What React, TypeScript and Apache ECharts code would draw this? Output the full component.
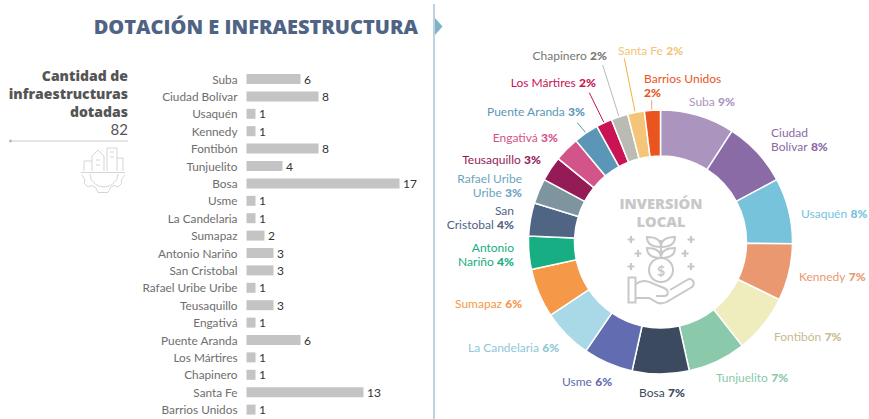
import React, { useEffect, useRef } from "react";
import * as echarts from "echarts";

const FONT = "Lato";
const HEAVY = "Open Sans";

const barCategories = ["Suba","Ciudad Bolívar","Usaquén","Kennedy","Fontibón","Tunjuelito","Bosa","Usme","La Candelaria","Sumapaz","Antonio Nariño","San Cristobal","Rafael Uribe Uribe","Teusaquillo","Engativá","Puente Aranda","Los Mártires","Chapinero","Santa Fe","Barrios Unidos"];
const barValues = [6,8,1,1,8,4,17,1,1,2,3,3,1,3,1,6,1,1,13,1];

const pieValues = [9.1,8.05,8.05,6.95,7.2,7.1,6.95,6.1,6.1,6.0,4.05,4.05,3.05,3.05,3.05,3.05,1.95,2.05,2.05,1.95];
const pieNames = ["Suba","Ciudad\nBolívar","Usaquén","Kennedy","Fontibón","Tunjuelito","Bosa","Usme","La Candelaria","Sumapaz","Antonio\nNariño","San\nCristobal","Rafael Uribe\nUribe","Teusaquillo","Engativá","Puente Aranda","Los Mártires","Chapinero","Santa Fe","Barrios Unidos\n"];
const piePercents = ["9%","8%","8%","7%","7%","7%","7%","6%","6%","6%","4%","4%","3%","3%","3%","3%","2%","2%","2%","2%"];
const pieColors = ["#ab95bf","#8a6ba5","#77c3dc","#e9986f","#efedbe","#8ac9aa","#3c4a60","#626cb0","#a9d9e7","#f59847","#16ae82","#506483","#7e959f","#951b57","#d35489","#5b96b7","#c91355","#babbb2","#f4c478","#ea541e"];
const labelColors = ["#ab95bf","#8a6ba5","#77c3dc","#e9986f","#c9bb92","#8ac9aa","#3c4a60","#626cb0","#8fc8d6","#f59847","#16ae82","#506483","#6ba4c0","#951b57","#d35489","#5b96b7","#c91355","#77776f","#f4c478","#ea541e"];
// anchor x, centre y, alignment of each donut label
const labelAnchors: [number, number, string][] = [
  [689,101,"left"],[771,139,"left"],[801,213,"left"],[799,276,"left"],[774,336,"left"],
  [716,377,"left"],[639,392,"left"],[562,381,"left"],[468,347,"left"],[455,303,"left"],
  [514,254,"right"],[514,217,"right"],[522,185,"right"],[541,159,"right"],[558,137,"right"],
  [585,111,"right"],[596,82,"right"],[607,55,"right"],[618,50,"left"],[644,85,"left"],
];
const leaders: [number, number, number, number, string][] = [
  [651.7,100,651.7,110,"#f0a080"],[624.3,58.3,635,111.7,"#f4b13f"],[602.7,65,619,116.7,"#bbbbb2"],
  [589.3,92.7,604,122.7,"#c91355"],[577.3,122.7,585.7,132.7,"#5b96b7"],
];

const CITY = "M84 171V161H92M92 171V156L98 150L104 156V171M96 160H100M96 165H100M107 171V148H117V171M117 158H123V171M110 152H114M110 157H114M81 172.5H125M90 174A14 13 0 0 0 118 174M82 175L85 180L84 183L88 187L92 185.5L96 188L98 192.5H108L110 188L114 185.5L118 187L122 183L121 180L125 175";
const PLANT = "M661 258V240M661 247C661 240 656 237 647 237C647 243 651 247 661 247ZM661 247C661 240 666 237 675 237C675 243 671 247 661 247ZM661 258C661 251 656 248 647 248C647 254 651 258 661 258ZM661 258C661 251 666 248 675 248C675 254 671 258 661 258ZM673 270A12 12 0 1 1 649 270A12 12 0 1 1 673 270ZM628.5 277.5H635.5V302.5H628.5ZM636 284C642 279 648 281 654 284L664 288C669 290 669 296 664 296H656M636 298H649L658 303C662 304 666 303 670 300L692 287C696 283 692 277 687 280L670 290";
const SPARKS = "M631 236V243M627.5 239.5H634.5M691 236V243M687.5 239.5H694.5M638 250V257M634.5 253.5H641.5M685 250V257M681.5 253.5H688.5M631 263V270M627.5 266.5H634.5M691 263V270M687.5 266.5H694.5";
echarts.graphic.registerShape("cityIcon", echarts.graphic.extendPath(CITY, {}));
echarts.graphic.registerShape("plantIcon", echarts.graphic.extendPath(PLANT, {}));
echarts.graphic.registerShape("sparkIcon", echarts.graphic.extendPath(SPARKS, {}));

const txt = (text: string, x: number, y: number, fontSize: number, fill: string, fontWeight: any, align = "right", fontFamily = FONT) => ({
  type: "text", x, y, silent: true,
  style: { text, fontSize, fill, fontWeight, fontFamily, align, verticalAlign: "middle" },
});

export default function App() {
  const ref = useRef<HTMLDivElement>(null);
  useEffect(() => {
    const chart = echarts.init(ref.current!, undefined, { renderer: "svg" });
    chart.setOption({
      animation: false,
      backgroundColor: "#ffffff",
      grid: { left: 246.5, top: 70.3, width: 180, height: 348 },
      xAxis: { type: "value", min: 0, max: 20, show: false },
      yAxis: {
        type: "category", inverse: true, data: barCategories,
        axisLine: { show: false }, axisTick: { show: false },
        axisLabel: { margin: 9, fontSize: 11.8, color: "#6e6e6e", fontFamily: FONT, padding: [0, 0, 2, 0] },
      },
      series: [
        {
          type: "bar", data: barValues, barWidth: 10, silent: true,
          itemStyle: { color: "#c4c4c4" },
          label: { show: true, position: "right", distance: 3.5, fontSize: 12, color: "#333333", fontFamily: FONT },
        },
        {
          type: "pie", radius: [86, 132], center: [660.5, 242], startAngle: 90, clockwise: true, silent: true,
          data: pieValues.map((value, i) => ({
            value, name: pieNames[i],
            itemStyle: { color: pieColors[i] },
            label: {
              overflow: "none",
              formatter: () => {
                const lines = pieNames[i].split("\n");
                const last = lines.pop() as string;
                const head = lines.map((l) => `{n|${l}}`);
                return [...head, `${last ? `{n|${last}} ` : ""}{p|${piePercents[i]}}`].join("\n");
              },
              rich: {
                n: { fontSize: 12, lineHeight: 14, color: labelColors[i], fontFamily: FONT },
                p: { fontSize: 12, lineHeight: 14, color: labelColors[i], fontFamily: FONT, fontWeight: 900 },
              },
            },
          })),
          itemStyle: { borderColor: "#ffffff", borderWidth: 1.5 },
          label: { show: true, position: "outside", overflow: "none" },
          labelLine: { show: false },
          labelLayout: (p: any) => {
            const a = labelAnchors[p.dataIndex];
            return { x: a[0], y: a[1], align: a[2], verticalAlign: "middle", hideOverlap: false };
          },
        },
      ],
      graphic: [
        txt("DOTACIÓN E INFRAESTRUCTURA", 418, 26, 20, "#4f6484", 800, "right", HEAVY),
        { type: "line", silent: true, shape: { x1: 434, y1: 4, x2: 434, y2: 419 }, style: { stroke: "#8fb6c8", lineWidth: 1.2 } },
        { type: "polygon", silent: true, shape: { points: [[435, 18], [442.5, 26.5], [435, 35]] }, style: { fill: "#7fb3c6" } },
        txt("Cantidad de", 128, 75, 14, "#555555", 800, "right", HEAVY),
        txt("infraestructuras", 128, 93, 14, "#555555", 800, "right", HEAVY),
        txt("dotadas", 128, 111, 14, "#555555", 800, "right", HEAVY),
        txt("82", 128, 129, 15, "#555555", 400),
        { type: "line", silent: true, shape: { x1: 10, y1: 141, x2: 128, y2: 141 }, style: { stroke: "#dddddd", lineWidth: 1.5 } },
        { type: "circle", silent: true, shape: { cx: 10.5, cy: 141, r: 1.5 }, style: { fill: "#bbbbbb" } },
        { type: "cityIcon", silent: true, style: { fill: "none", stroke: "#d0d0d0", lineWidth: 0.9 } },
        ...leaders.map(([x1, y1, x2, y2, stroke]) => ({ type: "line", silent: true, shape: { x1, y1, x2, y2 }, style: { stroke, lineWidth: 1 } })),
        {
          type: "text", x: 661, y: 212, silent: true,
          style: { text: "INVERSIÓN\nLOCAL", fontSize: 14.7, lineHeight: 18, fill: "#c8c8c8", fontWeight: 800, fontFamily: HEAVY, align: "center", verticalAlign: "middle" },
        },
        { type: "plantIcon", silent: true, style: { fill: "none", stroke: "#c8c8c8", lineWidth: 2 } },
        { type: "sparkIcon", silent: true, style: { fill: "none", stroke: "#c8c8c8", lineWidth: 2.2 } },
        txt("$", 661, 270.5, 14, "#c8c8c8", 700, "center"),
      ],
    });
    return () => chart.dispose();
  }, []);
  return <div ref={ref} style={{ position: "fixed", left: 0, top: 0, width: 869, height: 419 }} />;
}
